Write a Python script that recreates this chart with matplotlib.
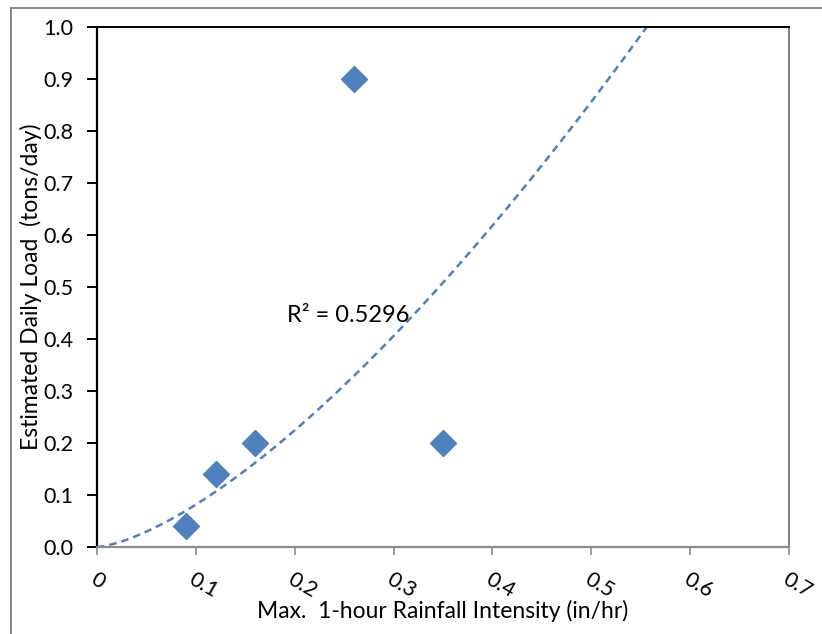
import numpy as np
import matplotlib
matplotlib.use('Agg')
import matplotlib.pyplot as plt
from matplotlib.lines import Line2D

# data
rain_intensity = [0.09, 0.12, 0.16, 0.26, 0.35]
daily_load = [0.04, 0.14, 0.20, 0.90, 0.20]
r2_label = 'R² = 0.5296'

plt.rcParams['font.family'] = ['Lato', 'DejaVu Sans']

fig = plt.figure(figsize=(8.22, 6.34), dpi=100)
ax = fig.add_axes([97 / 822, 87 / 634, 692 / 822, 520 / 634])

# power trendline fitted to the points (Excel style)
b, ln_a = np.polyfit(np.log(rain_intensity), np.log(daily_load), 1)
xs = np.linspace(0.0, 0.7, 300)
ys = np.exp(ln_a) * xs ** b
ax.plot(xs, ys, color='#4F81BD', linestyle=(0, (3, 2)), linewidth=1.8, zorder=2)

ax.plot(rain_intensity, daily_load, linestyle='none', marker='D', markersize=13,
        color='#4F81BD', markeredgecolor='#4F81BD', zorder=3)

ax.text(0.254, 0.446, r2_label, fontsize=17, ha='center', va='center', color='black')

ax.set_xlim(0, 0.7)
ax.set_ylim(0, 1.0)
ax.set_xticks(np.arange(0, 0.71, 0.1))
ax.set_xticklabels(['0', '0.1', '0.2', '0.3', '0.4', '0.5', '0.6', '0.7'],
                   rotation=-30, ha='left', rotation_mode='anchor', fontsize=15.5)
ax.set_yticks(np.arange(0, 1.01, 0.1))
ax.set_yticklabels(['%.1f' % v for v in np.arange(0, 1.01, 0.1)], fontsize=15.5)

ax.spines['left'].set_color('black')
ax.spines['left'].set_linewidth(1.6)
ax.spines['top'].set_color('black')
ax.spines['top'].set_linewidth(1.4)
ax.spines['right'].set_color('#808080')
ax.spines['right'].set_linewidth(1.4)
ax.spines['bottom'].set_color('#8c8c8c')
ax.spines['bottom'].set_linewidth(1.6)
ax.tick_params(axis='y', direction='out', length=7, width=1.4, color='black', pad=10)
ax.tick_params(axis='x', direction='out', length=6, width=1.2, color='#8c8c8c', pad=10)

ax.set_xlabel('Max.  1-hour Rainfall Intensity (in/hr)', fontsize=16.5, labelpad=-1)
ax.set_ylabel('Estimated Daily Load  (tons/day)', fontsize=16.5, labelpad=1)

# chart area border (only left and top visible)
fig.add_artist(Line2D([11 / 822, 11 / 822], [0, 1 - 8 / 634], transform=fig.transFigure,
                      color='#888888', linewidth=1.4))
fig.add_artist(Line2D([11 / 822, 1], [1 - 8 / 634, 1 - 8 / 634], transform=fig.transFigure,
                      color='#888888', linewidth=1.4))

fig.savefig('out.png', dpi=100)
